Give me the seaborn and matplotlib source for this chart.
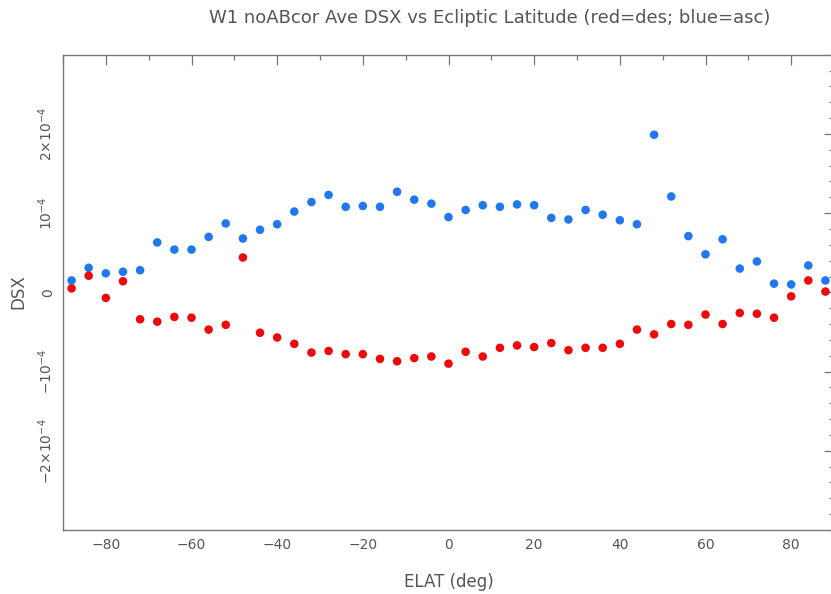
import numpy as np
import pandas as pd
import matplotlib
matplotlib.use("Agg")
import matplotlib.pyplot as plt
import seaborn as sns
from matplotlib.ticker import MultipleLocator, FixedLocator, FixedFormatter

elat = list(range(-88, 89, 4))

# values in units of 1e-4
asc = [0.15, 0.31, 0.24, 0.26, 0.28, 0.63, 0.54, 0.54, 0.70, 0.87,
       0.68, 0.79, 0.86, 1.02, 1.14, 1.23, 1.08, 1.09, 1.08, 1.27,
       1.17, 1.12, 0.95, 1.04, 1.10, 1.08, 1.11, 1.10, 0.94, 0.92,
       1.04, 0.98, 0.91, 0.86, 1.99, 1.21, 0.71, 0.48, 0.67, 0.30,
       0.39, 0.11, 0.10, 0.34, 0.15]
des = [0.05, 0.21, -0.07, 0.14, -0.34, -0.37, -0.31, -0.32, -0.47, -0.41,
       0.44, -0.51, -0.57, -0.65, -0.76, -0.74, -0.78, -0.78, -0.84, -0.87,
       -0.83, -0.81, -0.90, -0.75, -0.81, -0.70, -0.67, -0.69, -0.64, -0.73,
       -0.70, -0.70, -0.65, -0.47, -0.53, -0.40, -0.41, -0.28, -0.40, -0.26,
       -0.27, -0.32, -0.05, 0.15, 0.01]

ytick_vals = [-2e-4, -1e-4, 0, 1e-4, 2e-4]
ytick_labels = [r"$-2{\times}10^{-4}$", r"$-10^{-4}$", "0", r"$10^{-4}$", r"$2{\times}10^{-4}$"]
xtick_vals = [-80, -60, -40, -20, 0, 20, 40, 60, 80]

df = pd.DataFrame({
    "ELAT": elat * 2,
    "DSX": [v * 1e-4 for v in asc] + [v * 1e-4 for v in des],
    "dir": ["asc"] * len(asc) + ["des"] * len(des),
})

sns.set_style("white")
plt.rcParams["font.family"] = ["DejaVu Sans"]
plt.rcParams["mathtext.fontset"] = "dejavusans"

txt = "#555555"
fig = plt.figure(figsize=(8.31, 5.94), dpi=100)
ax = fig.add_axes([63 / 831, 1 - 530 / 594, (834 - 63) / 831, (530 - 54.7) / 594])

sns.scatterplot(data=df, x="ELAT", y="DSX", hue="dir",
                palette={"asc": "#1f78f0", "des": "#ee0a0a"},
                s=38, linewidth=0, legend=False, ax=ax)

ax.set_xlim(-90, 90)
ax.set_ylim(-3e-4, 3e-4)
ax.xaxis.set_major_locator(FixedLocator(xtick_vals))
ax.xaxis.set_minor_locator(MultipleLocator(10))
ax.yaxis.set_major_locator(FixedLocator(ytick_vals))
ax.yaxis.set_major_formatter(FixedFormatter(ytick_labels))
ax.yaxis.set_minor_locator(MultipleLocator(0.2e-4))
ax.tick_params(axis="both", which="both", direction="in", top=True, right=True,
               color="#777777", labelcolor=txt, labelsize=10)
ax.tick_params(axis="both", which="major", length=7, width=0.9, pad=6)
ax.tick_params(axis="both", which="minor", length=3.5, width=0.9)
for lab in ax.get_yticklabels():
    lab.set_rotation(90)
    lab.set_va("center")
for sp in ax.spines.values():
    sp.set_color("#777777")
    sp.set_linewidth(1.0)

ax.set_xlabel("")
ax.set_ylabel("")
fig.text(449 / 831, 1 - 582 / 594, "ELAT (deg)", ha="center", va="center",
         fontsize=12, color=txt)
fig.text(18 / 831, 1 - 292 / 594, "DSX", ha="center", va="center",
         rotation=90, fontsize=12, color=txt)
fig.text(490 / 831, 1 - 18 / 594,
         "W1 noABcor Ave DSX vs Ecliptic Latitude (red=des; blue=asc)",
         ha="center", va="center", fontsize=13, color=txt)

fig.savefig("out.png", dpi=100)
